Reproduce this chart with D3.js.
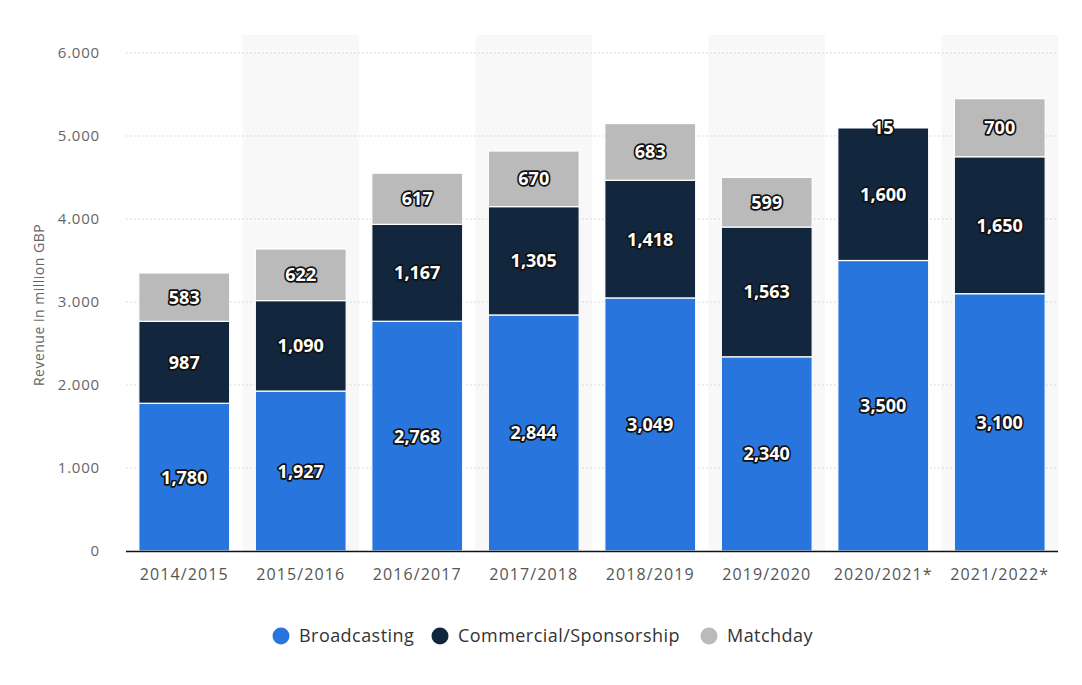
<!DOCTYPE html>
<html><head><meta charset="utf-8">
<script src="https://cdn.jsdelivr.net/npm/d3@7"></script>
<style>
body{margin:0;background:#fff;}
svg{display:block;font-family:"Open Sans",sans-serif;}
</style></head>
<body><svg id="c" width="1082" height="685"></svg>
<script>
const categories = ["2014/2015","2015/2016","2016/2017","2017/2018","2018/2019","2019/2020","2020/2021*","2021/2022*"];
const broadcasting = [1780,1927,2768,2844,3049,2340,3500,3100];
const commercial = [987,1090,1167,1305,1418,1563,1600,1650];
const matchday = [583,622,617,670,683,599,15,700];
const seriesNames = ["Broadcasting","Commercial/Sponsorship","Matchday"];
const seriesColors = ["#2876dd","#12263e","#bababa"];
const yTicks = [0,1000,2000,3000,4000,5000,6000];

const svg = d3.select("#c");
const m = {l:126, r:1058, t:53, b:551};
const x = d3.scaleBand().domain(categories).range([m.l,m.r]).paddingInner(0.22).paddingOuter(0.11);
const xb = d3.scaleBand().domain(categories).range([m.l,m.r]);
const y = d3.scaleLinear().domain([0,6000]).range([m.b,m.t]);

// alternating band shading
svg.append("g").selectAll("rect").data(categories.filter((d,i)=>i%2===1)).join("rect")
  .attr("x",d=>xb(d)).attr("width",xb.bandwidth()).attr("y",35).attr("height",m.b-35).attr("fill","#f8f8f8");

// grid
const fmt = d=> d===0 ? "0" : d3.format(",")(d).replace(/,/g,".");
svg.append("g").selectAll("line").data(yTicks.filter(d=>d>0)).join("line")
  .attr("x1",m.l).attr("x2",m.r).attr("y1",d=>y(d)).attr("y2",d=>y(d))
  .attr("stroke","#cfcfcf").attr("stroke-width",1).attr("stroke-dasharray","1.5,2.5");

// y axis labels
const ya = svg.append("g").attr("transform",`translate(${m.l-23},0)`)
  .call(d3.axisLeft(y).tickValues(yTicks).tickFormat(fmt).tickSize(0));
ya.select(".domain").remove();
ya.selectAll("text").attr("fill","#666").attr("font-size",15).attr("letter-spacing","0.8px")
  .attr("font-family","Open Sans, sans-serif").attr("dy","0.32em");

svg.append("text").attr("transform",`translate(44,${(m.t+m.b)/2+3}) rotate(-90)`)
  .attr("text-anchor","middle").attr("fill","#666").attr("font-size",14).attr("letter-spacing","0.5px")
  .text("Revenue in million GBP");

// stack
const rows = categories.map((c,i)=>({cat:c, Broadcasting:broadcasting[i], "Commercial/Sponsorship":commercial[i], Matchday:matchday[i]}));
const stack = d3.stack().keys(seriesNames)(rows);
const g = svg.append("g");
stack.forEach((s,si)=>{
  g.append("g").selectAll("rect").data(s).join("rect")
    .attr("x",d=>x(d.data.cat)).attr("width",x.bandwidth())
    .attr("y",d=>y(d[1])).attr("height",d=>y(d[0])-y(d[1]))
    .attr("fill",seriesColors[si]).attr("stroke","#fff").attr("stroke-width",1.2);
});
// labels
const lab = svg.append("g");
stack.forEach((s,si)=>{
  lab.append("g").selectAll("text").data(s).join("text")
    .attr("x",d=>x(d.data.cat)+x.bandwidth()/2)
    .attr("y",d=>(y(d[0])+y(d[1]))/2)
    .attr("dy","0.36em").attr("text-anchor","middle")
    .attr("font-size",18).attr("font-weight","bold").attr("font-family","Open Sans, sans-serif")
    .attr("fill","#fff").attr("stroke","#111").attr("stroke-width",3.4).attr("stroke-linejoin","round")
    .attr("paint-order","stroke")
    .text(d=>d3.format(",")(d[1]-d[0]));
});

// x axis
svg.append("line").attr("x1",m.l).attr("x2",m.r).attr("y1",m.b+0.5).attr("y2",m.b+0.5).attr("stroke","#111").attr("stroke-width",1.5);
const xa = svg.append("g").attr("transform",`translate(0,${m.b})`).call(d3.axisBottom(xb).tickSize(0));
xa.select(".domain").remove();
xa.selectAll("text").attr("fill","#555").attr("font-size",16).attr("font-family","Open Sans, sans-serif")
  .attr("letter-spacing","1.1px").attr("dy","1.6em");

// legend
const legX = [281,440,709];
const leg = svg.append("g");
seriesNames.forEach((n,i)=>{
  leg.append("circle").attr("cx",legX[i]).attr("cy",636).attr("r",8.5).attr("fill",seriesColors[i]);
  leg.append("text").attr("x",legX[i]+18).attr("y",636).attr("dy","0.35em").attr("font-size",18)
    .attr("letter-spacing","0.45px")
    .attr("fill","#333").attr("font-family","Open Sans, sans-serif").text(n);
});
</script></body></html>
